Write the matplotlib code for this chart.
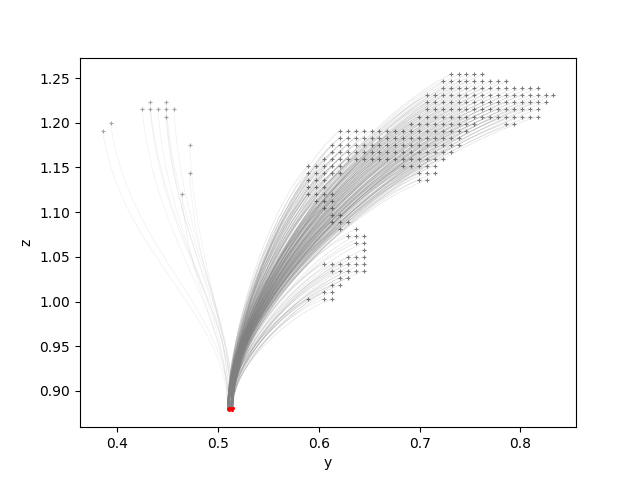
import matplotlib
matplotlib.use("Agg")
import matplotlib.pyplot as plt
from matplotlib.path import Path
from matplotlib.patches import PathPatch

# start grid: spacing and position of row 0 / column 0
grid_step = 0.00785
grid_y0 = 0.7072
grid_z0 = 1.2541

# main cluster, as row segments (row, first col, last col)
seg_row = [0, 1, 2, 3, 4, 5, 6, 7, 7, 8, 9, 10, 11, 12, 13, 13, 14, 14, 15, 15,
           16, 17, 18, 19, 20, 21, 22, 22, 23, 24, 25, 26, 27, 28, 29, 30, 31, 32, 32]
seg_first = [3, 2, 2, 0, 0, 0, -1, -2, 10, -11, -11, -12, -12, -13, -15, -3, -15, -1, -15, -1,
             -15, -15, -14, -13, -12, -12, -11, -9, -10, -9, -8, -10, -13, -12, -11, -12, -13, -15, -13]
seg_last = [7, 10, 14, 16, 15, 14, 14, 6, 11, 5, 4, 4, 3, 2, -11, 1, -11, 1, -13, 0,
            -13, -12, -12, -12, -11, -10, -11, -9, -8, -8, -8, -8, -8, -8, -10, -11, -12, -15, -12]

# small group on the left
left_y = [0.3853, 0.3932, 0.4324, 0.4481, 0.4246, 0.4324, 0.4403, 0.4481, 0.4560,
          0.4481, 0.4717, 0.4717, 0.4638]
left_z = [1.1913, 1.1992, 1.2227, 1.2227, 1.2149, 1.2149, 1.2149, 1.2149, 1.2149,
          1.2070, 1.1756, 1.1442, 1.1207]

# end points (red)
end_y = [0.5095, 0.5110, 0.5128, 0.5145, 0.5105, 0.5138]
end_z = [0.8795, 0.8806, 0.8812, 0.8808, 0.8782, 0.8790]

main_y, main_z = [], []
for r, c0, c1 in zip(seg_row, seg_first, seg_last):
    for c in range(c0, c1 + 1):
        main_y.append(grid_y0 + c * grid_step)
        main_z.append(grid_z0 - r * grid_step)


def trajectory(y0, z0, y1, z1, a, b, c):
    dy = y0 - y1
    dz = z0 - z1
    verts = [(y0, z0),
             (y0 - a * dy, z0 - b * dz),
             (y1, z1 + c * dz),
             (y1, z1)]
    codes = [Path.MOVETO, Path.CURVE4, Path.CURVE4, Path.CURVE4]
    return Path(verts, codes)


fig, ax = plt.subplots(figsize=(6.4, 4.8), dpi=100)

n_end = len(end_y)
for i, (y, z) in enumerate(zip(main_y, main_z)):
    p = trajectory(y, z, end_y[i % n_end], end_z[i % n_end], 0.45, 0.15, 0.35)
    ax.add_patch(PathPatch(p, fill=False, edgecolor="gray", lw=0.5, alpha=0.22))

for i, (y, z) in enumerate(zip(left_y, left_z)):
    p = trajectory(y, z, end_y[i % n_end], end_z[i % n_end], 0.15, 0.45, 0.35)
    ax.add_patch(PathPatch(p, fill=False, edgecolor="gray", lw=0.5, alpha=0.12))

ax.plot(main_y, main_z, "+", color="0.15", alpha=0.6, ms=3, mew=0.8, zorder=3)
ax.plot(left_y, left_z, "+", color="0.5", alpha=0.7, ms=3, mew=0.8, zorder=3)
ax.plot(end_y, end_z, ".", color="red", ms=2.5, zorder=4)

ax.set_xlabel("y")
ax.set_ylabel("z")

fig.savefig("out.png")
